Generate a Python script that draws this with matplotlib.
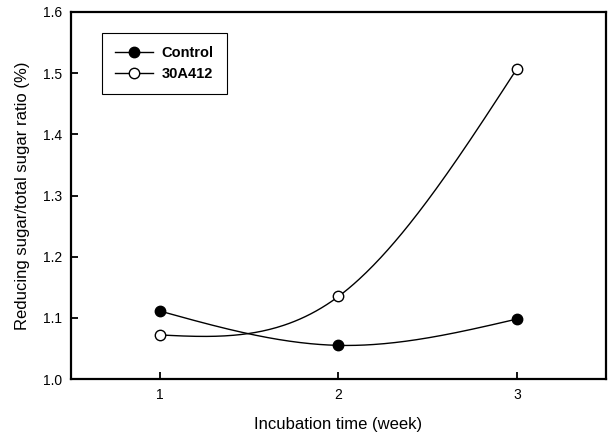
import numpy as np
import matplotlib
matplotlib.use("Agg")
import matplotlib.pyplot as plt
from matplotlib.lines import Line2D

weeks = [1, 2, 3]
control = [1.111, 1.055, 1.098]
strain_30a412 = [1.072, 1.135, 1.507]
xticks = [1, 2, 3]
yticks = [1.0, 1.1, 1.2, 1.3, 1.4, 1.5, 1.6]

plt.rcParams['font.family'] = ['Liberation Sans', 'DejaVu Sans']


def natural_spline(x, y, n=200):
    x = np.asarray(x, float)
    y = np.asarray(y, float)
    k = len(x)
    h = np.diff(x)
    A = np.zeros((k, k))
    b = np.zeros(k)
    A[0, 0] = 1
    A[-1, -1] = 1
    for i in range(1, k - 1):
        A[i, i - 1] = h[i - 1]
        A[i, i] = 2 * (h[i - 1] + h[i])
        A[i, i + 1] = h[i]
        b[i] = 6 * ((y[i + 1] - y[i]) / h[i] - (y[i] - y[i - 1]) / h[i - 1])
    M = np.linalg.solve(A, b)
    xs = np.linspace(x[0], x[-1], n)
    ys = np.empty_like(xs)
    for j, xv in enumerate(xs):
        i = min(np.searchsorted(x, xv, side='right') - 1, k - 2)
        t1 = x[i + 1] - xv
        t0 = xv - x[i]
        hi = h[i]
        ys[j] = (M[i] * t1 ** 3 / (6 * hi) + M[i + 1] * t0 ** 3 / (6 * hi)
                 + (y[i] / hi - M[i] * hi / 6) * t1
                 + (y[i + 1] / hi - M[i + 1] * hi / 6) * t0)
    return xs, ys


fig = plt.figure(figsize=(6.13, 4.36), dpi=100)
ax = fig.add_axes([0.1158, 0.1307, 0.8728, 0.8418])

for data, face in [(control, 'black'), (strain_30a412, 'white')]:
    xs, ys = natural_spline(weeks, data)
    ax.plot(xs, ys, color='black', lw=1.0, zorder=2)
    ax.plot(weeks, data, ls='none', marker='o', ms=7.5, mfc=face,
            mec='black', mew=1.0, zorder=3)

ax.set_xlim(0.5, 3.5)
ax.set_ylim(1.0, 1.6)
ax.set_xticks(xticks)
ax.set_xticklabels([str(v) for v in xticks])
ax.set_yticks(yticks)
ax.set_yticklabels([f"{v:.1f}" for v in yticks])
ax.tick_params(direction='in', length=5, width=1.3, labelsize=10,
               top=False, right=False, pad=6.5)
for s in ax.spines.values():
    s.set_linewidth(1.6)

ax.set_xlabel('Incubation time (week)', fontsize=12, labelpad=11)
ax.set_ylabel('Reducing sugar/total sugar ratio (%)', fontsize=12, labelpad=9)

handles = [
    Line2D([], [], color='black', lw=1.0, marker='o', ms=7.5, mfc='black', mec='black'),
    Line2D([], [], color='black', lw=1.0, marker='o', ms=7.5, mfc='white', mec='black'),
]
leg = ax.legend(handles, ['Control', '30A412'], loc='upper left',
                bbox_to_anchor=(0.058, 0.943), borderaxespad=0,
                fancybox=False, framealpha=1, edgecolor='black',
                prop={'weight': 'bold', 'size': 10.5}, handlelength=2.6,
                borderpad=0.9, labelspacing=0.5, handletextpad=0.6)
leg.get_frame().set_linewidth(0.8)

fig.savefig('out.png', dpi=100)
